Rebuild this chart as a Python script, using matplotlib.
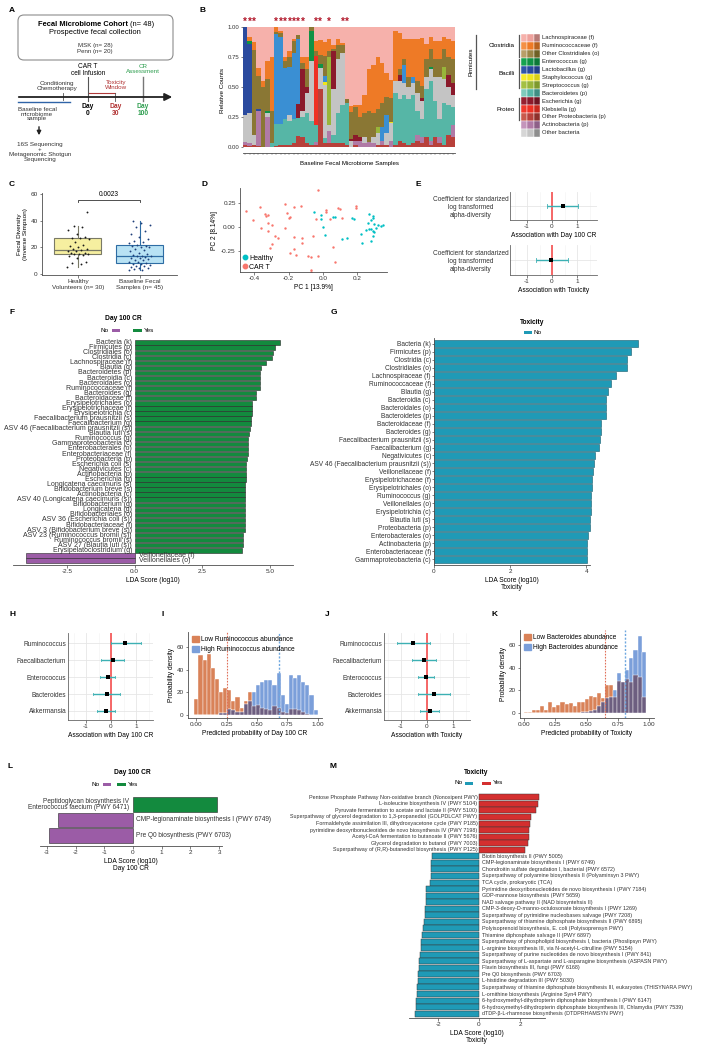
import numpy as np
import matplotlib
matplotlib.use('Agg')
import matplotlib.pyplot as plt
from matplotlib.patches import FancyBboxPatch, Rectangle, Patch
from matplotlib.lines import Line2D

plt.rcParams['font.family'] = ['Liberation Sans', 'DejaVu Sans']
plt.rcParams['font.size'] = 5
plt.rcParams['axes.linewidth'] = 0.6
plt.rcParams['axes.edgecolor'] = '#4d4d4d'
for k in ['xtick', 'ytick']:
    plt.rcParams[k + '.major.width'] = 0.5
    plt.rcParams[k + '.major.size'] = 1.8
    plt.rcParams[k + '.major.pad'] = 1.2
    plt.rcParams[k + '.labelsize'] = 4.6
    plt.rcParams[k + '.color'] = '#4d4d4d'
    plt.rcParams[k + '.labelcolor'] = '#333333'

# ---------------- data ----------------
# B: relative abundance per baseline sample (48 samples), bottom -> top
oth_proteo = [2,1,2,1,0,0,0,1,2,2, 2,3,9,8,3,2,2,48,3,3, 3,3,3,2,0,2,0,0,0,0, 2,2,2,0,2,5,3,2,3,5, 3,8,2,8,3,2,10,8]
actino = [2,2,0,29,0,25,0,0,0,0, 0,0,0,0,0,0,2,0,0,10, 0,0,0,0,0,3,5,3,4,3, 0,3,0,5,0,0,0,0,0,5, 5,0,3,0,5,0,0,10]
bacteroidetes = [0,0,0,0,0,0,3,18,17,21, 20,20,15,17,25,20,14,0,5,0, 7,25,32,35,0,0,0,0,0,0, 0,0,0,0,43,35,40,38,40,20, 15,40,50,30,15,35,25,15]
oth_bact = [23,25,8,0,0,3,0,0,0,0, 5,0,0,5,17,50,0,18,45,5, 38,45,43,0,5,0,0,5,0,5, 10,0,10,15,10,15,10,10,10,15, 15,10,10,20,35,20,15,10]
klebsiella = [0,0,0,0,0,0,0,0,0,0, 0,0,0,0,0,0,58,0,0,0, 0,0,0,0,0,0,0,0,0,0, 0,0,0,0,0,0,0,0,0,0, 0,0,0,0,0,0,0,0]
escherichia = [0,0,0,0,0,0,0,0,0,0, 0,0,12,35,5,0,0,0,0,0, 32,0,0,0,2,5,3,0,0,0, 0,0,0,0,0,5,0,0,0,0, 3,0,0,0,0,0,10,10]
strepto = [0,0,0,0,0,0,0,0,0,0, 0,0,0,0,0,0,0,0,0,57, 0,0,0,0,0,0,0,0,0,0, 5,0,0,0,0,0,0,0,0,0, 0,0,0,0,0,10,0,0]
staphylo = [0,0,0,0,0,0,0,0,0,0, 0,0,0,0,0,0,0,0,2,0, 0,0,0,0,0,0,0,0,0,0, 0,0,0,1,0,0,0,0,0,0, 0,0,0,0,0,0,0,0]
lacto_a = [73,58,0,2,0,0,0,0,0,0, 0,0,0,0,0,0,0,0,0,0, 0,0,0,0,0,0,0,0,0,0, 0,0,0,0,0,0,0,0,0,0, 0,0,0,0,0,0,0,0]
lacto_b = [0,0,0,0,0,0,0,75,73,43, 40,55,54,0,0,0,0,0,5,0, 0,0,0,0,0,0,0,0,0,0, 0,12,15,0,0,0,15,0,5,0, 0,0,0,0,0,0,0,0]
entero = [0,2,0,0,0,2,0,0,0,0, 0,0,0,0,0,25,0,3,0,0, 0,0,0,0,0,0,0,0,0,0, 0,0,0,0,0,0,0,0,0,0, 0,0,2,0,0,0,0,0]
oth_clos = [0,0,70,27,50,27,27,2,3,6, 8,10,3,5,15,3,4,8,17,5, 2,12,7,3,22,23,17,20,26,20, 15,20,15,20,0,5,5,8,0,10, 10,15,15,15,15,15,15,20]
rumino = [0,4,7,7,5,15,45,4,2,3, 5,2,0,5,10,0,8,12,12,10, 3,5,2,0,5,2,10,15,35,40, 43,33,20,15,42,30,17,32,32,35, 40,13,10,15,15,10,15,15]
lachno = [0,8,12,34,45,28,25,0,3,25, 20,10,7,25,25,0,12,11,13,10, 15,10,13,60,66,65,65,57,35,32, 25,30,38,45,3,5,10,10,10,10, 9,14,8,12,12,8,10,12]
starred = [0, 1, 2, 7, 8, 9, 10, 11, 12, 13, 16, 17, 19, 22, 23]

legend_taxa = ['Lachnospiraceae (f)', 'Ruminococcaceae (f)', 'Other Clostridiales (o)', 'Enterococcus (g)',
               'Lactobacillus (g)', 'Staphylococcus (g)', 'Streptococcus (g)', 'Bacteroidetes (p)',
               'Escherichia (g)', 'Klebsiella (g)', 'Other Proteobacteria (p)', 'Actinobacteria (p)', 'Other bacteria']
legend_shades = [['#f6b1ab', '#eea19c', '#b87a76'], ['#f49046', '#ee7a26', '#b8621f'],
                 ['#b89e68', '#9b8547', '#6f6125'], ['#16a34f', '#109245', '#0c7838'],
                 ['#2f55a8', '#2a4a9e', '#233f88'], ['#f5ec2a', '#efe51f', '#d8cf16'],
                 ['#a4c043', '#98b53a', '#7e9a2c'], ['#7fcbbb', '#56b6a6', '#3f8f84'],
                 ['#96202f', '#8b1a2b', '#6e1422'], ['#f03a2c', '#ee3124', '#c8281e'],
                 ['#c95a4c', '#b8403a', '#8e302b'], ['#c495bb', '#b07aa6', '#8e6088'],
                 ['#d6d6d6', '#c4c4c4', '#8e8e8e']]

# C: alpha diversity (inverse Simpson)
healthy_div = [5,7,8,9,12,13,14,14.5,15,15,16,16,17,17.5,18,18.5,19,20,21,22,24,26,27,27,28,30,33,35,36,47]
baseline_div = [2.5,3,3.5,4,4.5,5,5.5,6,6.5,7,7.5,8,8.5,9,10,10.5,11,11.5,12,12.5,13,13,13.5,14,15,
                16,17,18,19,20,20.5,21,21,22,23,24,25,26,28,30,32,35,37,38,40]
p_value = '0.0023'

# D: PCoA
healthy_pc1 = [-0.05,-0.01,-0.01,0.0,0.01,0.06,0.07,0.11,0.14,0.17,0.18,0.22,0.23,0.25,0.27,
               0.28,0.29,0.29,0.27,0.28,0.29,0.30,0.29,0.28,0.31,0.32,0.34,0.35,0.26,0.30]
healthy_pc2 = [0.16,0.12,0.08,0.0,-0.08,0.10,0.10,-0.13,-0.12,0.09,0.08,-0.07,-0.17,-0.03,0.13,
               0.07,0.11,0.09,-0.02,-0.02,-0.04,-0.05,-0.09,-0.15,-0.01,0.02,0.01,0.02,0.04,0.03]
cart_pc1 = [-0.45,-0.41,-0.37,-0.36,-0.34,-0.33,-0.32,-0.32,-0.32,-0.30,-0.28,-0.26,-0.30,-0.31,-0.22,
            -0.21,-0.20,-0.19,-0.22,-0.17,-0.13,-0.12,-0.12,-0.17,-0.19,-0.16,-0.09,-0.07,-0.03,-0.07,
            -0.07,-0.03,-0.06,-0.04,0.02,0.02,0.04,0.06,0.07,0.09,0.10,0.11,0.19,0.19,-0.17]
cart_pc2 = [0.17,0.07,0.21,-0.01,0.14,0.11,0.12,0.04,-0.04,0.02,-0.09,-0.11,-0.18,-0.22,0.24,
            0.15,0.09,0.10,-0.01,0.21,0.22,-0.11,-0.17,-0.23,-0.27,-0.29,-0.30,-0.31,-0.30,-0.45,
            -0.47,0.38,-0.09,0.08,0.16,0.18,0.08,-0.21,-0.36,0.20,0.19,0.09,0.22,0.20,-0.10]

# E: alpha-diversity coefficient
e_est = [0.44, -0.03]
e_lo = [-0.2, -0.63]
e_hi = [1.04, 0.64]

# F: LEfSe Day 100 CR
f_labels = ['Bacteria (k)', 'Firmicutes (p)', 'Clostridiales (o)', 'Clostridia (c)', 'Lachnospiraceae (f)',
            'Blautia (g)', 'Bacteroidetes (p)', 'Bacteroidia (c)', 'Bacteroidales (o)', 'Ruminococcaceae (f)',
            'Bacteroides (g)', 'Bacteroidaceae (f)', 'Erysipelotrichales (o)', 'Erysipelotrichaceae (f)',
            'Erysipelotrichia (c)', 'Faecalibacterium prausnitzii (s)', 'Faecalibacterium (g)',
            'ASV 46 (Faecalibacterium prausnitzii (s))', 'Blautia luti (s)', 'Ruminococcus (g)',
            'Gammaproteobacteria (c)', 'Enterobacterales (o)', 'Enterobacteriaceae (f)', 'Proteobacteria (p)',
            'Escherichia coli (s)', 'Negativicutes (c)', 'Actinobacteria (p)', 'Escherichia (g)',
            'Longicatena caecimuris (s)', 'Bifidobacterium breve (s)', 'Actinobacteria (c)',
            'ASV 40 (Longicatena caecimuris (s))', 'Bifidobacterium (g)', 'Longicatena (g)',
            'Bifidobacteriales (o)', 'ASV 36 (Escherichia coli (s))', 'Bifidobacteriaceae (f)',
            'ASV 3 (Bifidobacterium breve (s))', 'ASV 23 (Ruminococcus bromii (s))', 'Ruminococcus bromii (s)',
            'ASV 27 (Blautia luti (s))', 'Erysipelatoclostridium (g)', 'Veillonellaceae (f)', 'Veillonellales (o)']
f_scores = [5.36, 5.18, 5.11, 5.09, 4.86, 4.68, 4.62, 4.62, 4.62, 4.62, 4.50, 4.50, 4.33, 4.32, 4.32, 4.31,
            4.31, 4.25, 4.21, 4.20, 4.20, 4.19, 4.19, 4.15, 4.13, 4.11, 4.10, 4.10, 4.09, 4.09, 4.09, 4.09,
            4.09, 4.09, 4.08, 4.08, 4.08, 4.08, 4.01, 4.01, 3.99, 3.98, -4.03, -4.03]

# G: LEfSe toxicity
g_labels = ['Bacteria (k)', 'Firmicutes (p)', 'Clostridia (c)', 'Clostridiales (o)', 'Lachnospiraceae (f)',
            'Ruminococcaceae (f)', 'Blautia (g)', 'Bacteroidia (c)', 'Bacteroidales (o)', 'Bacteroidetes (p)',
            'Bacteroidaceae (f)', 'Bacteroides (g)', 'Faecalibacterium prausnitzii (s)', 'Faecalibacterium (g)',
            'Negativicutes (c)', 'ASV 46 (Faecalibacterium prausnitzii (s))', 'Veillonellaceae (f)',
            'Erysipelotrichaceae (f)', 'Erysipelotrichales (o)', 'Ruminococcus (g)', 'Veillonellales (o)',
            'Erysipelotrichia (c)', 'Blautia luti (s)', 'Proteobacteria (p)', 'Enterobacterales (o)',
            'Actinobacteria (p)', 'Enterobacteriaceae (f)', 'Gammaproteobacteria (c)']
g_scores = [5.35, 5.17, 5.07, 5.07, 4.79, 4.66, 4.57, 4.52, 4.52, 4.51, 4.40, 4.39, 4.35, 4.34, 4.23, 4.20,
            4.18, 4.15, 4.14, 4.13, 4.13, 4.13, 4.10, 4.09, 4.04, 4.02, 4.01, 4.01]

# H / J: taxa associations
hj_taxa = ['Ruminococcus', 'Faecalibacterium', 'Enterococcus', 'Bacteroides', 'Akkermansia']
h_est = [0.57, 0.08, -0.13, -0.17, -0.20]
h_lo = [0.0, -0.40, -0.45, -0.73, -0.57]
h_hi = [1.20, 0.52, 0.17, 0.35, 0.17]
j_est = [-0.54, -0.12, -0.05, 0.27, 0.10]
j_lo = [-1.17, -0.58, -0.35, -0.33, -0.28]
j_hi = [0.10, 0.33, 0.28, 0.88, 0.47]

# I / K: predicted probability histograms (density per bin)
i_low = [14,53,48,54,41,32,20,24,22,12,16,6,12,20,8,9,6,5,4,8,6,3,2,5,5,4,3,1,0,0]
i_high = [0,0,0,0,0,0,2,2,5,4,3,3,10,12,20,26,29,31,31,26,37,18,10,35,33,35,29,26,18,4]
i_low_mean, i_high_mean = 0.25, 0.68
k_low = [1,1,3,3,6,3,10,5,7,10,8,9,6,10,10,12,15,14,18,13,25,25,14,28,27,30,27,33,32,14]
k_high = [0,0,0,0,0,0,0,0,0,0,0,0,0,0,1,1,2,3,6,10,13,14,20,35,27,38,48,55,68,54]
k_low_mean, k_high_mean = 0.65, 0.81

# L: pathways Day 100 CR
l_labels = ['Peptidoglycan biosynthesis IV\nEnterococcus faecium (PWY 6471)',
            'CMP-legionaminate biosynthesis I (PWY 6749)', 'Pre Q0 biosynthesis (PWY 6703)']
l_scores = [2.94, -2.63, -2.93]

# M: pathways toxicity
m_labels = ['Pentose Phosphate Pathway Non-oxidative branch (Nonoxipent PWY)',
            'L-isoleucine biosynthesis IV (PWY 5104)',
            'Pyruvate fermentation to acetate and lactate II (PWY 5100)',
            'Superpathway of glycerol degradation to 1,3-propanediol (GOLPDLCAT PWY)',
            'Formaldehyde assimilation III, dihydroxyacetone cycle (PWY P185)',
            'pyrimidine deoxyribonucleotides de novo biosynthesis IV (PWY 7198)',
            'Acetyl-CoA fermentation to butanoate II (PWY 5676)',
            'Glycerol degradation to butanol (PWY 7003)',
            'Superpathway of (R,R)-butanediol biosynthesis (PWY P125)',
            'Biotin biosynthesis II (PWY 5005)',
            'CMP-legionaminate biosynthesis I (PWY 6749)',
            'Chondroitin sulfate degradation I, bacterial (PWY 6572)',
            'Superpathway of polyamine biosynthesis II (Polyaminsyn 3 PWY)',
            'TCA cycle, prokaryotic (TCA)',
            'Pyrimidine deoxyribonucleotides de novo biosynthesis I (PWY 7184)',
            'GDP-mannose biosynthesis (PWY 5659)',
            'NAD salvage pathway II (NAD biosyntehsis II)',
            'CMP-3-deoxy-D-manno-octulosonate biosynthesis I (PWY 1269)',
            'Superpathway of pyrimidine nucleobases salvage (PWY 7208)',
            'Superpathway of thiamine diphosphate biosynthesis II (PWY 6895)',
            'Polyisoprenoid biosynthesis, E. coli (Polyisoprensyn PWY)',
            'Thiamine diphosphate salvage II (PWY 6897)',
            'Superpathway of phospholipid biosynthesis I, bacteria (Phoslipsyn PWY)',
            'L-arginine biosynthesis III, via N-acetyl-L-citrulline (PWY 5154)',
            'Superpathway of purine nucleotides de novo biosynthesis I (PWY 841)',
            'Superpathway of L-aspartate and L-asparagine biosynthesis (ASPASN PWY)',
            'Flavin biosynthesis III, fungi (PWY 6168)',
            'Pre Q0 biosynthesis (PWY 6703)',
            'L-histidine degradation III (PWY 5030)',
            'Superpathway of thiamine diphosphate biosynthesis III, eukaryotes (THISYNARA PWY)',
            'L-ornithine biosynthesis (Arginine Syn4 PWY)',
            '6-hydroxymethyl-dihydropterin diphosphate biosynthesis I (PWY 6147)',
            '6-hydroxymethyl-dihydropterin diphosphate biosynthesis III, Chlamydia (PWY 7539)',
            'dTDP-\u03b2-L-rhamnose biosynthesis (DTDPRHAMSYN PWY)']
m_scores = [2.95, 2.86, 2.76, 2.54, 2.50, 2.46, 2.42, 2.39, 2.23,
            -2.31, -2.34, -2.34, -2.34, -2.39, -2.59, -2.59, -2.60, -2.62, -2.64, -2.67, -2.72, -2.80,
            -2.81, -2.85, -2.88, -2.93, -2.94, -2.98, -3.00, -3.01, -3.04, -3.07, -3.09, -3.12]

GREEN, PURPLE, TEAL, RED = '#138a3e', '#9b5ca6', '#1f9ab6', '#d42f2f'

# ---------------- figure ----------------
W, H = 701, 1050
fig = plt.figure(figsize=(W / 100, H / 100), dpi=100)


def px_axes(x, y, w, h):
    return fig.add_axes([x / W, 1 - (y + h) / H, w / W, h / H])


def clean(ax, keep=('left', 'bottom')):
    for s in ['left', 'right', 'top', 'bottom']:
        ax.spines[s].set_visible(s in keep)


ov = px_axes(0, 0, W, H)
ov.set_xlim(0, W)
ov.set_ylim(H, 0)
ov.axis('off')

for lab, x, y in [('A', 9, 10), ('B', 200, 10), ('C', 9, 184), ('D', 202, 184), ('E', 416, 184),
                  ('F', 9, 313), ('G', 331, 313), ('H', 9, 614), ('I', 161, 614), ('J', 325, 614),
                  ('K', 492, 614), ('L', 8, 766), ('M', 330, 766)]:
    ov.text(x, y, lab, fontsize=6, fontweight='bold', va='center', ha='left')

# ---- A: study schematic ----
ov.add_patch(FancyBboxPatch((18, 15), 155, 45, boxstyle='round,pad=0,rounding_size=6',
                            fc='none', ec='#8c8c8c', lw=0.8))
ov.text(128, 24, 'Fecal Microbiome Cohort', fontsize=5.4, fontweight='bold', ha='right', va='center')
ov.text(130, 24, '(n= 48)', fontsize=5.4, ha='left', va='center')
ov.text(95, 32, 'Prospective fecal collection', fontsize=5.4, ha='center', va='center')
ov.text(95, 46, 'MSK (n= 28)', fontsize=4.4, ha='center', va='center', color='#333333')
ov.text(95, 52, 'Penn (n= 20)', fontsize=4.4, ha='center', va='center', color='#333333')
ov.annotate('', xy=(175, 97), xytext=(16, 97),
            arrowprops=dict(arrowstyle='-|>', lw=1.3, color='#222222', mutation_scale=11))
ov.plot([18, 70], [102, 102], color='#2f64a8', lw=1.0)
ov.plot([63, 63], [93, 100], color='#555555', lw=0.6)
ov.text(57, 86, 'Conditioning\nChemotherapy', fontsize=4.5, ha='center', va='center', color='#333333',
        linespacing=0.95)
ov.plot([88, 88], [77, 101], color='#555555', lw=0.8)
ov.text(88, 70, 'CAR T\ncell Infusion', fontsize=4.7, ha='center', va='center', linespacing=0.95)
ov.plot([89, 115], [93, 93], color='#b03a3a', lw=0.8)
ov.plot([115, 115], [93, 101], color='#555555', lw=0.6)
ov.text(116, 85, 'Toxicity\nWindow', fontsize=4.5, ha='center', va='center', color='#b03030',
        linespacing=0.95)
ov.plot([143, 143], [77, 101], color='#777777', lw=1.0)
ov.text(143, 69, 'CR\nAssessment', fontsize=4.5, ha='center', va='center', color='#2e9e4f',
        linespacing=0.95)
ov.text(88, 110, 'Day\n0', fontsize=4.8, fontweight='bold', ha='center', va='center', linespacing=0.95)
ov.text(116, 110, 'Day\n30', fontsize=4.8, fontweight='bold', ha='center', va='center',
        color='#b03030', linespacing=0.95)
ov.text(143, 110, 'Day\n100', fontsize=4.8, fontweight='bold', ha='center', va='center',
        color='#2e9e4f', linespacing=0.95)
ov.text(37, 114, 'Baseline fecal\nmicrobiome\nsample', fontsize=4.5, ha='center', va='center',
        color='#333333', linespacing=0.95)
ov.annotate('', xy=(39, 138), xytext=(39, 124),
            arrowprops=dict(arrowstyle='-|>', lw=1.0, color='#222222', mutation_scale=6))
ov.text(40, 152, '16S Sequencing\n+\nMetagenomic Shotgun\nSequencing', fontsize=4.5, ha='center',
        va='center', color='#333333', linespacing=0.95)

# ---- B: stacked relative abundance ----
axB = px_axes(243, 27, 212, 126)
stack = [(oth_proteo, legend_shades[10][1]), (actino, legend_shades[11][1]),
         (bacteroidetes, legend_shades[7][1]), (oth_bact, legend_shades[12][1]),
         (klebsiella, legend_shades[9][1]), (escherichia, legend_shades[8][1]),
         (strepto, legend_shades[6][1]), (staphylo, legend_shades[5][1]),
         (lacto_a, legend_shades[4][1]), (lacto_b, '#3a8fd3'), (entero, legend_shades[3][1]),
         (oth_clos, '#8a7734'), (rumino, legend_shades[1][1]), (lachno, legend_shades[0][0])]
tot = np.sum([np.array(v, float) for v, _ in stack], axis=0)
xs = np.arange(len(tot))
bottom = np.zeros(len(tot))
for vals, col in stack:
    frac = np.array(vals, float) / tot
    axB.bar(xs, frac, bottom=bottom, width=1.0, color=col, lw=0)
    bottom += frac
for i in starred:
    axB.text(i, 1.0, '*', color='#b2182b', ha='center', va='bottom', fontsize=7, fontweight='bold',
             clip_on=False)
axB.set_xlim(-0.5, len(tot) - 0.5)
axB.set_ylim(-0.05, 1.0)
clean(axB, keep=('bottom',))
axB.set_xticks(xs)
axB.set_xticklabels([])
axB.tick_params(axis='x', length=1.2, width=0.3)
axB.set_yticks([0, 0.25, 0.5, 0.75, 1.0])
axB.set_yticklabels(['0.00', '0.25', '0.50', '0.75', '1.00'], fontsize=4.3)
axB.tick_params(axis='y', length=1.2)
axB.set_ylabel('Relative Counts', fontsize=4.6, labelpad=2)
axB.set_xlabel('Baseline Fecal Microbiome Samples', fontsize=4.4, labelpad=3)

row_h = 7.9
for r, (lab, shades) in enumerate(zip(legend_taxa, legend_shades)):
    y0 = 34 + r * row_h
    for c, sh in enumerate(shades):
        ov.add_patch(Rectangle((521 + c * 6.4, y0), 6.4, row_h, fc=sh, ec='white', lw=0.3))
    ov.text(542, y0 + row_h / 2, lab, fontsize=4.2, va='center', ha='left', color='#222222')
for name, r0, r1 in [('Clostridia', 0, 3), ('Bacilli', 3, 7), ('Proteo', 8, 11)]:
    ya, yb = 34 + r0 * row_h + 1, 34 + r1 * row_h - 1
    ov.plot([518.5, 518.5], [ya, yb], color='#555555', lw=0.9)
    ov.text(515, (ya + yb) / 2, name, fontsize=4.5, ha='right', va='center')
ov.plot([476, 476], [35, 89], color='#555555', lw=0.9)
ov.text(471, 62, 'Firmicutes', fontsize=4.5, rotation=90, ha='center', va='center')

# ---- C: diversity boxplot ----
axC = px_axes(42, 193, 135, 82)
bp = axC.boxplot([healthy_div, baseline_div], positions=[1, 2], widths=0.76, patch_artist=True,
                 showfliers=False)
for patch, fc, ec in zip(bp['boxes'], ['#f6efa0', '#b8e2f4'], ['#7a7a66', '#2e6da4']):
    patch.set(facecolor=fc, edgecolor=ec, lw=0.8)
for j, ec in enumerate(['#7a7a66', '#2e6da4']):
    for part in ['whiskers', 'caps']:
        for ln in bp[part][2 * j:2 * j + 2]:
            ln.set(color=ec, lw=0.8)
    bp['medians'][j].set(color=ec, lw=0.9)
for ln in bp['caps']:
    ln.set_visible(False)
for pos, vals, col in [(1, healthy_div, '#1a1a1a'), (2, baseline_div, '#1f3f7a')]:
    n = len(vals)
    jit = ((np.arange(n) * 0.618) % 1 - 0.5) * 0.36
    axC.scatter(pos + jit, vals, s=1.8, color=col, zorder=3, lw=0)
axC.plot([1, 1, 2, 2], [54, 56, 56, 54], color='#333333', lw=0.6)
axC.text(1.5, 57.5, p_value, ha='center', va='bottom', fontsize=4.8)
axC.set_xlim(0.42, 2.6)
axC.set_ylim(-1, 61)
axC.set_yticks([0, 20, 40, 60])
axC.set_xticks([1, 2])
axC.set_xticklabels(['Healthy\nVolunteers (n= 30)', 'Baseline Fecal\nSamples (n= 45)'], fontsize=4.6)
axC.set_ylabel('Fecal Diversity\n(Inverse Simpson)', fontsize=4.6, labelpad=2)
clean(axC)

# ---- D: PCoA ----
axD = px_axes(240, 188, 147, 84)
axD.scatter(cart_pc1, cart_pc2, s=3, color='#f8766d', lw=0, label='CAR T')
axD.scatter(healthy_pc1, healthy_pc2, s=3, color='#00bfc4', lw=0, label='Healthy')
axD.set_xlim(-0.484, 0.373)
axD.set_ylim(-0.469, 0.406)
axD.set_xticks([-0.4, -0.2, 0.0, 0.2])
axD.set_xticklabels(['-0.4', '-0.2', '0.0', '0.2'])
axD.set_yticks([-0.25, 0.0, 0.25])
axD.set_yticklabels(['-0.25', '0.00', '0.25'])
axD.set_xlabel('PC 1 [13.9%]', fontsize=4.8, labelpad=2)
axD.set_ylabel('PC 2 [8.14%]', fontsize=4.8, labelpad=2)
clean(axD)
hd = [Line2D([], [], marker='o', ls='', color='#00bfc4', ms=3.2),
      Line2D([], [], marker='o', ls='', color='#f8766d', ms=3.2)]
axD.legend(hd, ['Healthy', 'CAR T'], loc='lower left', frameon=False, fontsize=5, handletextpad=0.1,
           borderaxespad=0.1, labelspacing=0.25, handlelength=1.0, borderpad=0.1)


# ---- forest plots ----
def forest(ax, est, lo, hi, labels, xlabel, xlim, ylabel_fs=4.7):
    n = len(est)
    ys = np.arange(n)[::-1] + 1
    ax.set_xlim(*xlim)
    ax.set_ylim(0.47, n + 0.59)
    ax.set_xticks([-1, 0, 1])
    ax.set_xticklabels(['-1', '0', '1'])
    ax.set_xticks([-1.5, -0.5, 0.5, 1.5], minor=True)
    ax.tick_params(which='minor', length=0)
    ax.grid(True, which='major', color='#e6e6e6', lw=0.6)
    ax.grid(True, which='minor', axis='x', color='#f2f2f2', lw=0.4)
    ax.set_axisbelow(True)
    ax.axvline(0, color='#f65c5c', lw=1.3, zorder=2)
    ax.hlines(ys, lo, hi, color='#3cb0b3', lw=1.0, zorder=3)
    for y, a, b in zip(ys, lo, hi):
        ax.plot([a, a], [y - 0.08, y + 0.08], color='#3cb0b3', lw=0.6, zorder=3)
        ax.plot([b, b], [y - 0.08, y + 0.08], color='#3cb0b3', lw=0.6, zorder=3)
    ax.scatter(est, ys, marker='s', s=9, color='black', zorder=4, lw=0)
    ax.set_yticks(ys)
    ax.set_yticklabels(labels, fontsize=ylabel_fs)
    ax.tick_params(axis='y', length=0)
    ax.set_xlabel(xlabel, fontsize=4.8, labelpad=2)
    clean(ax)
    for s in ['left', 'bottom']:
        ax.spines[s].set_color('#666666')


e_label = 'Coefficient for standarized\nlog transformed\nalpha-diversity'
axE1 = px_axes(510, 192, 87, 28)
forest(axE1, [e_est[0]], [e_lo[0]], [e_hi[0]], [e_label], 'Association with Day 100 CR', (-1.68, 1.8))
axE2 = px_axes(510, 245, 87, 30)
forest(axE2, [e_est[1]], [e_lo[1]], [e_hi[1]], [e_label], 'Association with Toxicity', (-1.68, 1.8))
for a in (axE1, axE2):
    a.set_ylim(0.4, 1.6)
    for t in a.get_yticklabels():
        t.set_multialignment('center')

axH = px_axes(68, 633, 85, 87)
forest(axH, h_est, h_lo, h_hi, hj_taxa, 'Association with Day 100 CR', (-1.72, 1.68))
axJ = px_axes(384, 633, 86, 87)
forest(axJ, j_est, j_lo, j_hi, hj_taxa, 'Association with Toxicity', (-1.65, 1.65))


# ---- histograms ----
def hist_panel(ax, low, high, edges, low_mean, high_mean, names, xlabel, xlim, ylim):
    low = np.array(low, float)
    high = np.array(high, float)
    w = edges[1] - edges[0]
    left = edges[:-1]
    ax.bar(left, low, width=w, align='edge', color='#d98258', ec='white', lw=0.3)
    ax.bar(left, high, width=w, align='edge', color='#7b9fda', ec='white', lw=0.3)
    ax.bar(left, np.minimum(low, high), width=w, align='edge', color='#6d5e80', ec='white', lw=0.3)
    ax.axvline(low_mean, color='#e0705a', ls=(0, (1.5, 1.2)), lw=0.8)
    ax.axvline(high_mean, color='#6fa8e0', ls=(0, (1.5, 1.2)), lw=1.0)
    ax.set_xlim(*xlim)
    ax.set_ylim(*ylim)
    ax.set_xticks([0, 0.25, 0.5, 0.75, 1.0])
    ax.set_xticklabels(['0.00', '0.25', '0.50', '0.75', '1.00'])
    ax.set_yticks([0, 20, 40, 60])
    ax.set_xlabel(xlabel, fontsize=4.8, labelpad=2)
    ax.set_ylabel('Probability density', fontsize=4.8, labelpad=1)
    clean(ax)
    hnd = [Patch(fc='#d98258', ec='#d98258'), Patch(fc='#7b9fda', ec='#7b9fda')]
    ax.legend(hnd, names, loc='upper left', frameon=False, fontsize=4.8, handlelength=1.0,
              handleheight=1.0, handletextpad=0.4, borderaxespad=0.2, labelspacing=0.35)


axI = px_axes(188, 632, 134, 86)
hist_panel(axI, i_low, i_high, np.linspace(-0.0137, 0.997, 31), i_low_mean, i_high_mean,
           ['Low Ruminococcus abundance', 'High Ruminococcus abundance'],
           'Predicted probability of Day 100 CR', (-0.066, 1.033), (-2.6, 73))
axK = px_axes(520, 630, 134, 88)
hist_panel(axK, k_low, k_high, np.linspace(0.0, 0.973, 31), k_low_mean, k_high_mean,
           ['Low Bacteroides abundance', 'High Bacteroides abundance'],
           'Predicted probability of Toxicity', (-0.032, 1.04), (-4.4, 73))


# ---- LDA bar panels ----
def lda_labels(ax, ys, scores, labels, fs, off_l, off_r):
    for y, s, lab in zip(ys, scores, labels):
        if s > 0:
            ax.text(-off_l, y, lab, ha='right', va='center', fontsize=fs, color='#333333',
                    linespacing=0.9)
        else:
            ax.text(off_r, y, lab, ha='left', va='center', fontsize=fs, color='#333333',
                    linespacing=0.9)


# F
axF = px_axes(13, 338, 280, 227)
ys = np.arange(len(f_scores))[::-1]
axF.barh(ys, f_scores, height=0.86, color=[GREEN if s > 0 else PURPLE for s in f_scores],
         ec='#262626', lw=0.4)
axF.set_xlim(-4.5, 5.85)
axF.set_ylim(-0.89, len(f_scores) - 1 + 0.9)
lda_labels(axF, ys, f_scores, f_labels, 5.0, 0.1, 0.15)
clean(axF, keep=('bottom',))
axF.set_yticks([])
axF.set_xticks([-2.5, 0, 2.5, 5.0])
axF.set_xticklabels(['-2.5', '0.0', '2.5', '5.0'])
axF.set_xlabel('LDA Score (log10)', fontsize=4.8, labelpad=2)
ov.text(123, 319, 'Day 100 CR', fontsize=4.8, fontweight='bold', ha='center', va='center')
ov.text(109, 330, 'No', fontsize=4.6, ha='right', va='center')
ov.add_patch(Rectangle((112, 328.5), 7.5, 3, fc=PURPLE, ec='none'))
ov.add_patch(Rectangle((133, 328.5), 8.5, 3, fc=GREEN, ec='none'))
ov.text(144, 330, 'Yes', fontsize=4.6, ha='left', va='center')

# G
axG = px_axes(434, 338, 156, 227)
ys = np.arange(len(g_scores))[::-1]
axG.barh(ys, g_scores, height=0.88, color=TEAL, ec='#135a6b', lw=0.4, clip_on=False)
axG.set_xlim(0, 4.1)
axG.set_ylim(-0.75, len(g_scores) - 1 + 0.75)
axG.set_yticks(ys)
axG.set_yticklabels(g_labels, fontsize=4.8)
axG.tick_params(axis='y', length=1.2, pad=1)
axG.set_xticks([0, 2, 4])
axG.set_xlabel('LDA Score (log10)\nToxicity', fontsize=4.8, labelpad=2, linespacing=1.0)
clean(axG)
ov.text(532, 322, 'Toxicity', fontsize=4.8, fontweight='bold', ha='center', va='center')
ov.add_patch(Rectangle((524, 331), 8, 3, fc=TEAL, ec='none'))
ov.text(533, 332, 'No', fontsize=4.6, ha='left', va='center')

# L
axL = px_axes(40, 795, 182, 51)
ys = np.arange(len(l_scores))[::-1]
axL.barh(ys, l_scores, height=0.95, color=[GREEN if s > 0 else PURPLE for s in l_scores],
         ec='#262626', lw=0.4)
axL.set_xlim(-3.24, 3.1)
axL.set_ylim(-0.68, 2.61)
lda_labels(axL, ys, l_scores, l_labels, 4.7, 0.12, 0.12)
clean(axL, keep=('bottom',))
axL.set_yticks([])
axL.set_xticks([-3, -2, -1, 0, 1, 2, 3])
axL.set_xticklabels(['-3', '-2', '-1', '0', '1', '2', '3'])
axL.set_xlabel('LDA Score (log10)\nDay 100 CR', fontsize=4.8, labelpad=2, linespacing=1.0)
ov.text(132, 773, 'Day 100 CR', fontsize=4.8, fontweight='bold', ha='center', va='center')
ov.text(100, 784, 'No', fontsize=4.6, ha='right', va='center')
ov.add_patch(Rectangle((103, 782.5), 8, 3, fc=PURPLE, ec='none'))
ov.add_patch(Rectangle((117, 782.5), 9, 3, fc=GREEN, ec='none'))
ov.text(128, 784, 'Yes', fontsize=4.6, ha='left', va='center')

# M
axM = px_axes(409, 793, 136, 225)
ys = np.arange(len(m_scores))[::-1]
axM.barh(ys, m_scores, height=0.9, color=[RED if s > 0 else TEAL for s in m_scores],
         ec='#3a3a3a', lw=0.35)
axM.set_xlim(-3.42, 3.22)
axM.set_ylim(-0.66, len(m_scores) - 1 + 0.66)
lda_labels(axM, ys, m_scores, m_labels, 3.9, 0.08, 0.12)
clean(axM, keep=('bottom',))
axM.set_yticks([])
axM.set_xticks([-2, 0, 2])
axM.set_xticklabels(['-2', '0', '2'])
axM.set_xlabel('LDA Score (log10)\nToxicity', fontsize=4.8, labelpad=2, linespacing=1.0)
ov.text(476, 773, 'Toxicity', fontsize=4.8, fontweight='bold', ha='center', va='center')
ov.text(463, 783, 'No', fontsize=4.6, ha='right', va='center')
ov.add_patch(Rectangle((465, 781.5), 8, 3, fc=TEAL, ec='none'))
ov.add_patch(Rectangle((482, 781.5), 9, 3, fc=RED, ec='none'))
ov.text(493, 783, 'Yes', fontsize=4.6, ha='left', va='center')

fig.savefig('out.png', dpi=100)
